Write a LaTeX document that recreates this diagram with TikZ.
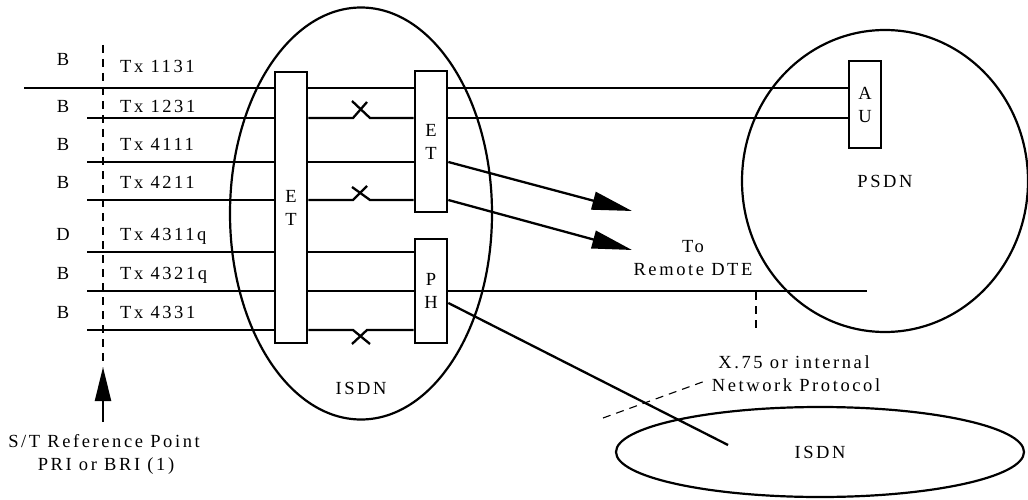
\documentclass[tikz,border=0pt]{standalone}
\usepackage{fontspec}
\setmainfont[LetterSpace=14]{Liberation Serif}
\usetikzlibrary{arrows.meta,shapes.geometric}
\begin{document}
\begin{tikzpicture}[x=1pt,y=-1pt,
  font=\fontsize{18.5}{23}\selectfont,
  wire/.style={line width=2.3pt},
  blk/.style={draw, line width=2.7pt, fill=white, inner sep=0pt, align=center},
  net/.style={draw, ellipse, line width=2.2pt, inner sep=0pt},
  lbl/.style={inner sep=0pt, anchor=base},
  lbll/.style={inner sep=0pt, anchor=base west},
  refdash/.style={line width=1.1pt, dash pattern=on 8pt off 6pt},
  bigtip/.style={-{Triangle[length=40pt,width=18pt]}},
  uptip/.style={-{Triangle[length=34pt,width=16pt]}}]

\useasboundingbox (0,0) rectangle (1028,500);

% networks
\node[net, minimum width=262, minimum height=412] (isdnL) at (361,213.5) {};
\node[net, minimum width=286, minimum height=302] (psdn) at (885,181) {};
\node[net, minimum width=408, minimum height=90] (isdnB) at (820,452) {ISDN};

% free line ends
\coordinate (l1) at (24,88);
\coordinate (l2) at (87,118);
\coordinate (l3) at (87,162);
\coordinate (l4) at (87,200);
\coordinate (l5) at (87,252);
\coordinate (l6) at (87,291);
\coordinate (l7) at (87,330);
\coordinate (l6e) at (867,291);
\coordinate (dte1) at (632,211);
\coordinate (dte2) at (632,250);
\coordinate (phend) at (728,445);
\coordinate (sttop) at (103,45);
\coordinate (sttip) at (103,367);
\coordinate (sttail) at (103,422);

% blocks
\node[blk, minimum width=32, minimum height=271] (etL) at (291,207.5) {E\\T};
\node[blk, minimum width=32, minimum height=141] (etM) at (431,141.5) {E\\T};
\node[blk, minimum width=32, minimum height=104] (ph) at (431,291) {P\\H};
\node[blk, minimum width=32, minimum height=87] (au) at (865,104.5) {A\\U};

% line 1
\draw[wire] (l1) -- (etL.west |- l1);
\draw[wire] (etL.east |- l1) -- (etM.west |- l1);
\draw[wire] (etM.east |- l1) -- (au.west |- l1);
% line 2
\draw[wire] (l2) -- (etL.west |- l2);
\draw[wire] (etL.east |- l2) -- (353,118) -- (367,102);
\draw[wire] (352,101) -- (370,118) -- (etM.west |- l2);
\draw[wire] (etM.east |- l2) -- (au.west |- l2);
% line 3
\draw[wire] (l3) -- (etL.west |- l3);
\draw[wire] (etL.east |- l3) -- (etM.west |- l3);
% line 4
\draw[wire] (l4) -- (etL.west |- l4);
\draw[wire] (etL.east |- l4) -- (353,200) -- (367,186);
\draw[wire] (352,187) -- (370,200) -- (etM.west |- l4);
% line 5
\draw[wire] (l5) -- (etL.west |- l5);
\draw[wire] (etL.east |- l5) -- (ph.west |- l5);
% line 6
\draw[wire] (l6) -- (etL.west |- l6);
\draw[wire] (etL.east |- l6) -- (ph.west |- l6);
\draw[wire] (ph.east |- l6) -- (l6e);
% line 7
\draw[wire] (l7) -- (etL.west |- l7);
\draw[wire] (etL.east |- l7) -- (353,330) -- (370,344);
\draw[wire] (352,344) -- (367,330) -- (ph.west |- l7);

% to remote DTE
\draw[wire, bigtip] (etM.east |- l3) -- (dte1);
\draw[wire, bigtip] (etM.east |- l4) -- (dte2);
% PH to remote ISDN
\draw[wire] ([yshift=-12pt]ph.east) -- (phend);

% reference point
\draw[refdash] (sttop) -- (sttip);
\draw[wire, uptip] (sttail) -- (sttip);
% protocol markers
\draw[refdash] (756,292) -- (756,333);
\draw[refdash] (603,418) -- (708,380);

% labels
\node[lbl] at (63,66) {B};
\node[lbl] at (63,113) {B};
\node[lbl] at (63,150) {B};
\node[lbl] at (63,188) {B};
\node[lbl] at (63,240) {D};
\node[lbl] at (63,279) {B};
\node[lbl] at (63,318) {B};
\node[lbll] at (120,73) {Tx 1131};
\node[lbll] at (120,113) {Tx 1231};
\node[lbll] at (120,150) {Tx 4111};
\node[lbll] at (120,188) {Tx 4211};
\node[lbll] at (120,240) {Tx 4311q};
\node[lbll] at (120,279) {Tx 4321q};
\node[lbll] at (120,318) {Tx 4331};

\node[lbl] at (693,252) {To};
\node[lbl] at (693,275) {Remote DTE};
\node[lbl] at (885,187) {PSDN};
\node[lbl] at (361,394) {ISDN};
\node[lbl] at (794,368) {X.75 or internal};
\node[lbl] at (796,391) {Network Protocol};
\node[lbl] at (104,447) {S/T Reference Point};
\node[lbl] at (106,470) {PRI or BRI (1)};
\end{tikzpicture}
\end{document}
